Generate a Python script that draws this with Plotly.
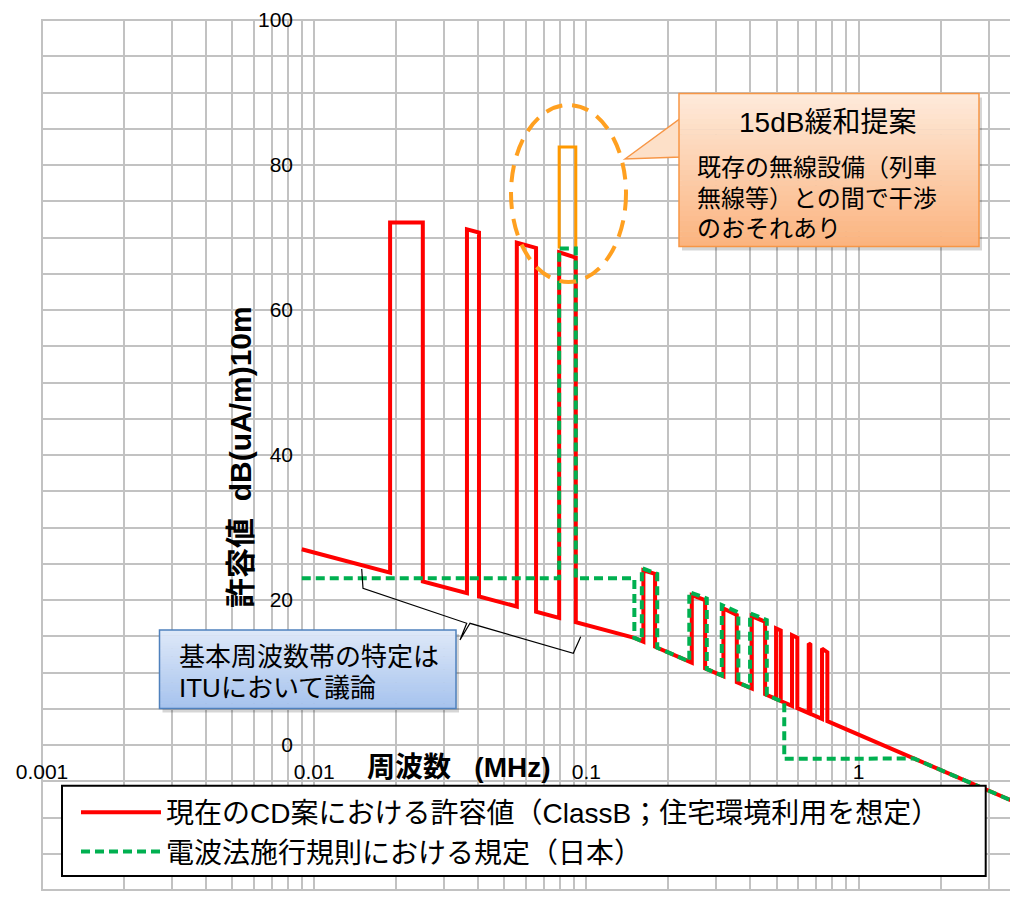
import math
import plotly.graph_objects as go

# ---------------- data ----------------
# Red: current CD draft limit (ClassB)
red_freq = [0.009,
            0.0190, 0.0190, 0.02506, 0.02506,
            0.0364, 0.0364, 0.0403, 0.0403,
            0.0555, 0.0555, 0.0653, 0.0653,
            0.0794, 0.0794, 0.0914, 0.0914,
            0.15,
            0.1619, 0.1619, 0.1787, 0.1787,
            0.2438, 0.2438, 0.2729, 0.2729,
            0.3186, 0.3186, 0.3568, 0.3568,
            0.405, 0.405, 0.4533, 0.4533,
            0.4973, 0.4973, 0.5174, 0.5174,
            0.5691, 0.5691, 0.5954, 0.5954,
            0.6557, 0.6557, 0.6647, 0.6647,
            0.7336, 0.7336, 0.7674, 0.7674,
            4.0]
red_level = [27.0,
             23.76, 72.06, 72.06, 22.55,
             20.93, 71.13, 70.68, 20.49,
             19.10, 69.30, 68.56, 18.39,
             17.54, 67.96, 67.23, 16.93,
             14.78,
             14.24, 24.10, 23.60, 13.55,
             11.36, 20.68, 19.99, 10.57,
             9.48, 18.84, 17.92, 8.68,
             7.79, 17.78, 17.00, 7.00,
             6.35, 16.10, 15.80, 6.07,
             5.40, 15.15, 14.80, 5.08,
             4.40, 14.00, 13.85, 4.31,
             3.61, 13.30, 12.80, 3.29,
             -8.32]

# Green: Japanese Radio Law enforcement regulation
green_freq = [0.009, 0.0794, 0.0794, 0.0914, 0.0914, 0.15, 0.15,
              0.1598, 0.1598, 0.182, 0.182,
              0.2387, 0.2387, 0.2768, 0.2768,
              0.3142, 0.3142, 0.3615, 0.3615,
              0.3992, 0.3992, 0.4598, 0.4598,
              0.533, 0.533, 1.6, 4.0]
green_level = [23.0, 23.0, 68.5, 68.5, 23.0, 23.0, 14.78,
               14.33, 24.40, 23.60, 13.42,
               11.51, 21.10, 20.20, 10.47,
               9.58, 19.30, 18.30, 8.59,
               7.90, 18.15, 17.23, 6.90,
               5.86, -1.90, -1.87, -8.32]

# Orange: 15 dB relaxation proposal
orange_freq = [0.0794, 0.0794, 0.0914, 0.0914]
orange_level = [68.5, 82.5, 82.5, 68.5]

x_decades = [0.001, 0.01, 0.1, 1]
x_tick_labels = ["0.001", "0.01", "0.1", "1"]
y_major = [-20, 0, 20, 40, 60, 80, 100]
y_tick_labels = ["-20", "0", "20", "40", "60", "80", "100"]

legend_names = ["現在のCD案における許容値（ClassB；住宅環境利用を想定）",
                "電波法施行規則における規定（日本）"]

# ---------------- layout geometry ----------------
# page coordinates: the figure sits at an 8px body offset in the page
OFF = 8
PL, PT, PR, PB = 42, 20, 1018, 890          # plot area in page pixels
W, H = PR - OFF, PB - OFF + 8
L, T = PL - OFF, PT - OFF
PW, PH = PR - PL, PB - PT
B = H - T - PH
XR = [-3.0, 0.5854]
YR = [-20, 100]

def px(x):
    return (x - PL) / PW

def py(y):
    return (PB - y) / PH

# ticks / grid
xt_vals, xt_text = [], []
for dec, lab in zip(x_decades, x_tick_labels):
    for m in range(1, 10):
        v = dec * m
        if math.log10(v) > XR[1]:
            break
        xt_vals.append(v)
        xt_text.append(lab if m == 1 else "")
yt_vals = list(range(YR[0], YR[1] + 1, 5))
ymap = dict(zip(y_major, y_tick_labels))
yt_text = [ymap.get(v, "") for v in yt_vals]

FONT = "Liberation Sans, Arial, Noto Sans CJK JP"
JFONT = "Liberation Sans, Noto Sans CJK JP"
GRID = "#c2c2c2"

fig = go.Figure()
fig.add_trace(go.Scatter(x=red_freq, y=red_level, mode="lines", name=legend_names[0],
                         line=dict(color="#ff0000", width=4)))
fig.add_trace(go.Scatter(x=orange_freq, y=orange_level, mode="lines", showlegend=False,
                         line=dict(color="#ff9900", width=3)))
fig.add_trace(go.Scatter(x=green_freq, y=green_level, mode="lines", name=legend_names[1],
                         line=dict(color="#00b050", width=4, dash="9px,5px")))

shapes = []
annotations = []

# plot-area border (gray, like the outer gridlines)
shapes.append(dict(type="rect", xref="paper", yref="paper", x0=0, x1=1.05, y0=0, y1=1,
                   line=dict(color=GRID, width=2), fillcolor="rgba(0,0,0,0)", layer="below"))

# legend frame (white box with black border, the legend entries sit inside)
shapes.append(dict(type="rect", xref="paper", yref="paper",
                   x0=px(62), x1=px(985.7), y0=py(876), y1=py(785.7),
                   line=dict(color="#000000", width=2), fillcolor="white"))

def gradient_box(x0, y0, x1, y1, c_top, c_bot, border, n=30):
    shapes.append(dict(type="rect", xref="paper", yref="paper",
                       x0=px(x0 + 3), x1=px(x1 + 3), y0=py(y1 + 4), y1=py(y0 + 4),
                       fillcolor="rgba(0,0,0,0.16)", line=dict(width=0)))
    for i in range(n):
        t = i / (n - 1)
        c = tuple(round(a + (b - a) * t) for a, b in zip(c_top, c_bot))
        ya = y0 + (y1 - y0) * i / n
        yb = y0 + (y1 - y0) * (i + 1) / n
        shapes.append(dict(type="rect", xref="paper", yref="paper",
                           x0=px(x0), x1=px(x1), y0=py(yb + 0.5), y1=py(ya),
                           fillcolor="rgb(%d,%d,%d)" % c, line=dict(width=0)))
    shapes.append(dict(type="rect", xref="paper", yref="paper",
                       x0=px(x0), x1=px(x1), y0=py(y1), y1=py(y0),
                       fillcolor="rgba(0,0,0,0)", line=dict(color=border, width=1.5)))

# orange callout pointer + box
shapes.append(dict(type="path", xref="paper", yref="paper",
                   path="M%f,%f L%f,%f L%f,%f Z" % (px(625), py(159), px(681), py(118), px(681), py(157)),
                   fillcolor="#fde0c8", line=dict(color="#f79646", width=1.5)))
gradient_box(679, 93.5, 979, 246.5, (254, 234, 218), (251, 180, 128), "#f79646")

# blue callout box
gradient_box(159.5, 630, 456, 708.5, (222, 232, 248), (166, 195, 238), "#4f81bd")

# dashed orange ellipse
shapes.append(dict(type="circle", xref="paper", yref="paper",
                   x0=px(511), x1=px(626), y0=py(282), y1=py(105),
                   line=dict(color="#ffa020", width=4, dash="17px,10px")))

# brace pointing to blue box
brace = [(361.7, 569), (363, 588.3), (466.7, 623.3), (460, 640), (470, 623.3),
         (573.3, 653.3), (580.7, 636.7)]
shapes.append(dict(type="path", xref="paper", yref="paper",
                   path="M" + " L".join("%f,%f" % (px(a), py(b)) for a, b in brace),
                   line=dict(color="#000000", width=1.2)))

def ann(text, x, y, size, xanchor="center", bold=False, angle=0):
    annotations.append(dict(text=("<b>%s</b>" % text) if bold else text,
                            xref="paper", yref="paper", x=px(x), y=py(y),
                            xanchor=xanchor, yanchor="middle", showarrow=False,
                            textangle=angle,
                            font=dict(family=JFONT, size=size, color="#000000")))

ann("周波数   (MHz)", 459, 767, 28, bold=True)
ann("許容値  dB(uA/m)10m", 241, 457, 30, bold=True, angle=-90)
ann("15dB緩和提案", 827, 123, 28)
ann("既存の無線設備（列車", 695, 168, 24, xanchor="left")
ann("無線等）との間で干渉", 695, 198, 24, xanchor="left")
ann("のおそれあり", 695, 228, 24, xanchor="left")
ann("基本周波数帯の特定は", 176.5, 656.7, 26, xanchor="left")
ann("ITUにおいて議論", 176.5, 688.3, 26, xanchor="left")

fig.update_layout(
    width=W, height=H,
    margin=dict(l=L, r=0, t=T, b=B, pad=0),
    paper_bgcolor="white", plot_bgcolor="white",
    xaxis=dict(type="log", range=XR, anchor="free",
               position=(0 - YR[0]) / (YR[1] - YR[0]),
               tickmode="array", tickvals=xt_vals, ticktext=xt_text,
               showgrid=True, gridcolor=GRID, gridwidth=2,
               zeroline=False, showline=False,
               ticks="outside", ticklen=8, tickcolor="rgba(0,0,0,0)",
               tickfont=dict(family=FONT, size=21, color="#000000"),
               automargin=False),
    yaxis=dict(range=YR, anchor="free",
               position=(math.log10(0.01) - XR[0]) / (XR[1] - XR[0]),
               tickmode="array", tickvals=yt_vals, ticktext=yt_text,
               showgrid=True, gridcolor=GRID, gridwidth=2,
               zeroline=False, showline=False,
               ticks="outside", ticklen=17, tickcolor="rgba(0,0,0,0)",
               tickfont=dict(family=FONT, size=21, color="#000000"),
               automargin=False),
    legend=dict(x=px(76), y=py(787.5), xanchor="left", yanchor="top",
                bgcolor="rgba(0,0,0,0)", borderwidth=0,
                font=dict(family=JFONT, size=28, color="#000000"),
                itemwidth=80, tracegroupgap=0),
    shapes=shapes, annotations=annotations,
)

fig.write_html("out.html")
